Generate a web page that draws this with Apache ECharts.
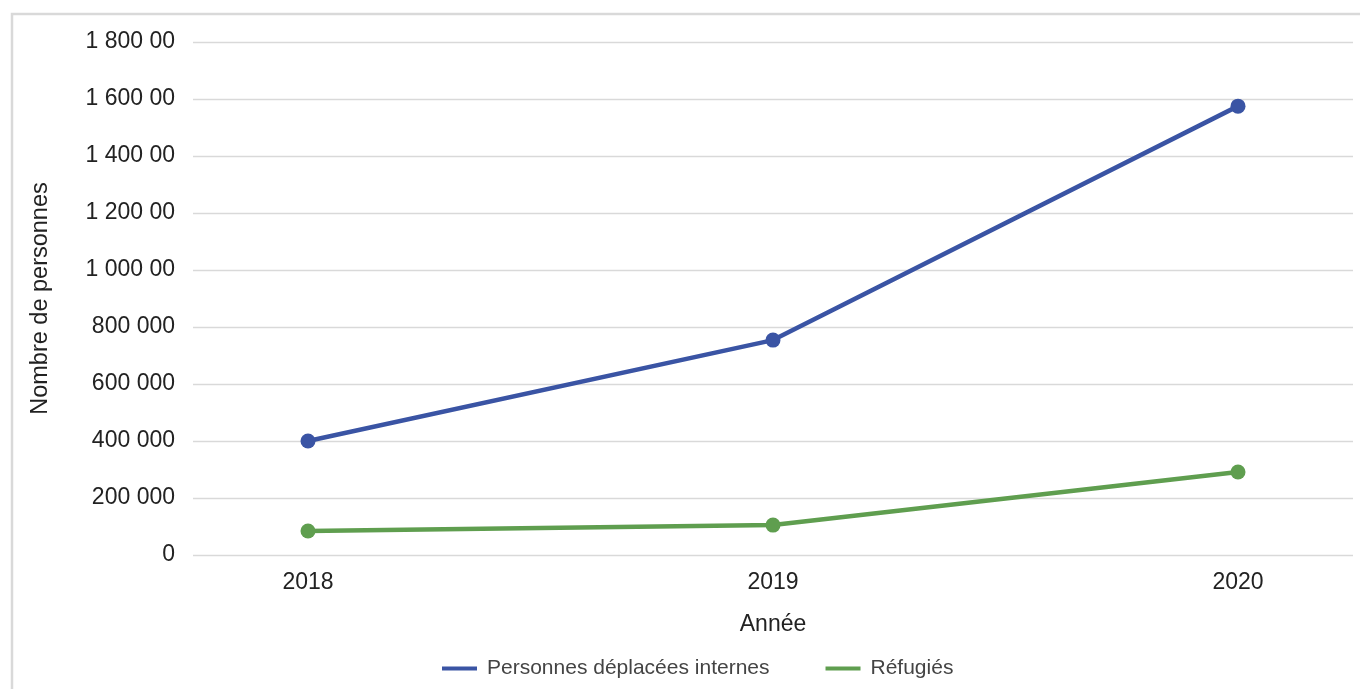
<!DOCTYPE html>
<html>
<head>
<meta charset="utf-8">
<script src="https://cdn.jsdelivr.net/npm/echarts@6/dist/echarts.min.js"></script>
<style>
html,body{margin:0;padding:0;background:#fff;}
#chart{width:1360px;height:689px;}
</style>
</head>
<body>
<div id="chart"></div>
<script>
const categories = ["2018", "2019", "2020"];
const seriesNames = ["Personnes déplacées internes", "Réfugiés"];
const deplaces = [400000, 754000, 1575000];
const refugies = [84000, 105000, 291000];
const yTickValues = [0, 200000, 400000, 600000, 800000, 1000000, 1200000, 1400000, 1600000, 1800000];
const yTickLabels = ["0", "200 000", "400 000", "600 000", "800 000", "1 000 00", "1 200 00", "1 400 00", "1 600 00", "1 800 00"];

const font = '"Liberation Sans", Arial, sans-serif';
const chart = echarts.init(document.getElementById('chart'), null, {renderer: 'canvas'});
const pad = 0.2473;
chart.setOption({
  animation: false,
  backgroundColor: '#ffffff',
  graphic: [{
    type: 'rect', silent: true, z: 0,
    shape: {x: 12, y: 14, width: 1400, height: 720},
    style: {fill: 'none', stroke: '#d9d9d9', lineWidth: 2.5}
  }],
  grid: {left: 193, right: 7, top: 42, bottom: 134, containLabel: false},
  xAxis: {
    type: 'value',
    min: -pad, max: categories.length - 1 + pad,
    name: 'Année', nameLocation: 'middle', nameGap: 58,
    nameTextStyle: {fontFamily: font, fontSize: 23, color: '#222'},
    axisLine: {show: false}, axisTick: {show: false},
    splitLine: {show: false},
    axisLabel: {
      customValues: categories.map((c, i) => i),
      formatter: v => categories[Math.round(v)],
      fontFamily: font, fontSize: 23, color: '#222', margin: 16
    }
  },
  yAxis: {
    type: 'value', min: 0, max: 1800000, interval: 200000,
    name: 'Nombre de personnes', nameLocation: 'middle', nameGap: 140, nameRotate: 90,
    nameTextStyle: {fontFamily: font, fontSize: 23.5, color: '#222'},
    axisLine: {show: false}, axisTick: {show: false},
    splitLine: {lineStyle: {color: '#d9d9d9', width: 1.3}},
    axisLabel: {
      formatter: v => { const i = yTickValues.indexOf(v); return i >= 0 ? yTickLabels[i] : ''; },
      fontFamily: font, fontSize: 23, color: '#222', margin: 18,
      padding: [4, 0, 0, 0]
    }
  },
  legend: {
    left: 442, top: 658, padding: 0,
    itemWidth: 35, itemHeight: 4, itemGap: 56,
    icon: 'rect',
    textStyle: {fontFamily: font, fontSize: 21, color: '#444', padding: [0, 0, 0, 5]},
    data: seriesNames
  },
  series: [
    {
      name: seriesNames[0], type: 'line',
      data: deplaces.map((v, i) => [i, v]),
      color: '#3a54a4',
      lineStyle: {width: 4.5, color: '#3a54a4'},
      itemStyle: {color: '#3a54a4'},
      symbol: 'circle', symbolSize: 15
    },
    {
      name: seriesNames[1], type: 'line',
      data: refugies.map((v, i) => [i, v]),
      color: '#5f9e4f',
      lineStyle: {width: 4.5, color: '#5f9e4f'},
      itemStyle: {color: '#5f9e4f'},
      symbol: 'circle', symbolSize: 15
    }
  ]
});
</script>
</body>
</html>
